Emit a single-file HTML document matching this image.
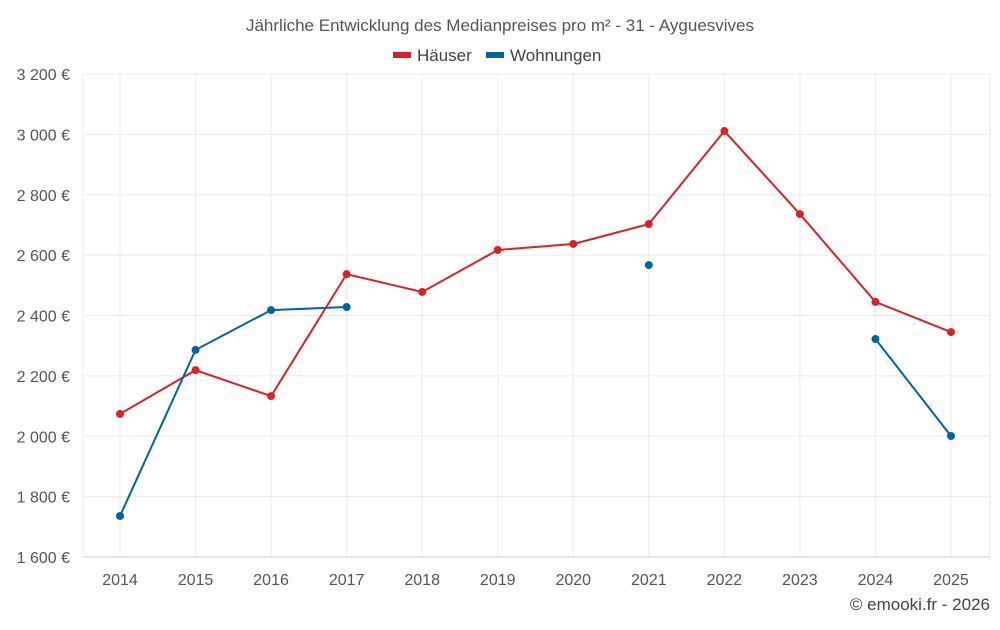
<!DOCTYPE html>
<html><head><meta charset="utf-8"><style>
body{margin:0;background:#fff;font-family:"Liberation Sans",sans-serif}
</style></head><body>
<svg id="c" width="1000" height="625" xmlns="http://www.w3.org/2000/svg" font-family="Liberation Sans, sans-serif"></svg>
<script>
const years=[2014,2015,2016,2017,2018,2019,2020,2021,2022,2023,2024,2025];
const houses=[2074,2219,2133,2537,2478,2617,2637,2703,3011,2736,2445,2345];
const flats=[1736,2286,2418,2428,null,null,null,2567,null,null,2322,2001];
const yTicks=[1600,1800,2000,2200,2400,2600,2800,3000,3200];
const yLabels=["1 600 €","1 800 €","2 000 €","2 200 €","2 400 €","2 600 €","2 800 €","3 000 €","3 200 €"];
const svg=document.getElementById('c');const NS='http://www.w3.org/2000/svg';
const L=83,R=990,T=74,B=557;
const x=i=>120+i*(951-120)/11;
const y=v=>B-(v-1600)/(1600)*(B-T);
function el(t,a,p){const e=document.createElementNS(NS,t);for(const k in a)e.setAttribute(k,a[k]);(p||svg).appendChild(e);return e;}
function tx(s,a){const e=el('text',a);e.textContent=s;return e;}
const grid=el('g',{});


yTicks.forEach((v,i)=>{el('line',{x1:L,x2:R,y1:y(v),y2:y(v),stroke:i==0?'#ccc':'#ebebeb'},grid);
const t=tx(yLabels[i],{x:70,y:y(v)+6,'text-anchor':'end','font-size':16,fill:'#555'});

});
el('line',{x1:L,x2:L,y1:T,y2:B,stroke:'#ebebeb'},grid);el('line',{x1:R,x2:R,y1:T,y2:B,stroke:'#ebebeb'},grid);
years.forEach((yr,i)=>{el('line',{x1:x(i),x2:x(i),y1:T,y2:B,stroke:'#ebebeb'},grid);
const t=tx(String(yr),{x:x(i),y:585,'text-anchor':'middle','font-size':16,fill:'#555'});

});
function series(data,color,name){
const g=el('g',{});


let d='',pen=false;
data.forEach((v,i)=>{if(v==null){pen=false;return;}d+=(pen?'L':'M')+x(i)+' '+y(v)+' ';pen=true;});
el('path',{d:d,fill:'none',stroke:color,'stroke-width':2},g);
data.forEach((v,i)=>{if(v==null)return;const c=el('circle',{cx:x(i),cy:y(v),r:4,fill:color},g);

});}
series(houses,'#d92228','houses-series');
series(flats,'#00659d','flats-series');
const title=tx('Jährliche Entwicklung des Medianpreises pro m² - 31 - Ayguesvives',{x:500,y:31,'text-anchor':'middle','font-size':17,fill:'#555'});


const lg=el('g',{});


el('rect',{x:393,y:52,width:18,height:6,fill:'#d92228'},lg);
const l1=tx('Häuser',{x:417,y:61,'font-size':17,fill:'#444'});lg.appendChild(l1);
el('rect',{x:486,y:52,width:18,height:6,fill:'#00659d'},lg);
const l2=tx('Wohnungen',{x:510,y:61,'font-size':17,fill:'#444'});lg.appendChild(l2);
const cr=tx('© emooki.fr - 2026',{x:990,y:610,'text-anchor':'end','font-size':17,fill:'#444'});


</script>
</body></html>
